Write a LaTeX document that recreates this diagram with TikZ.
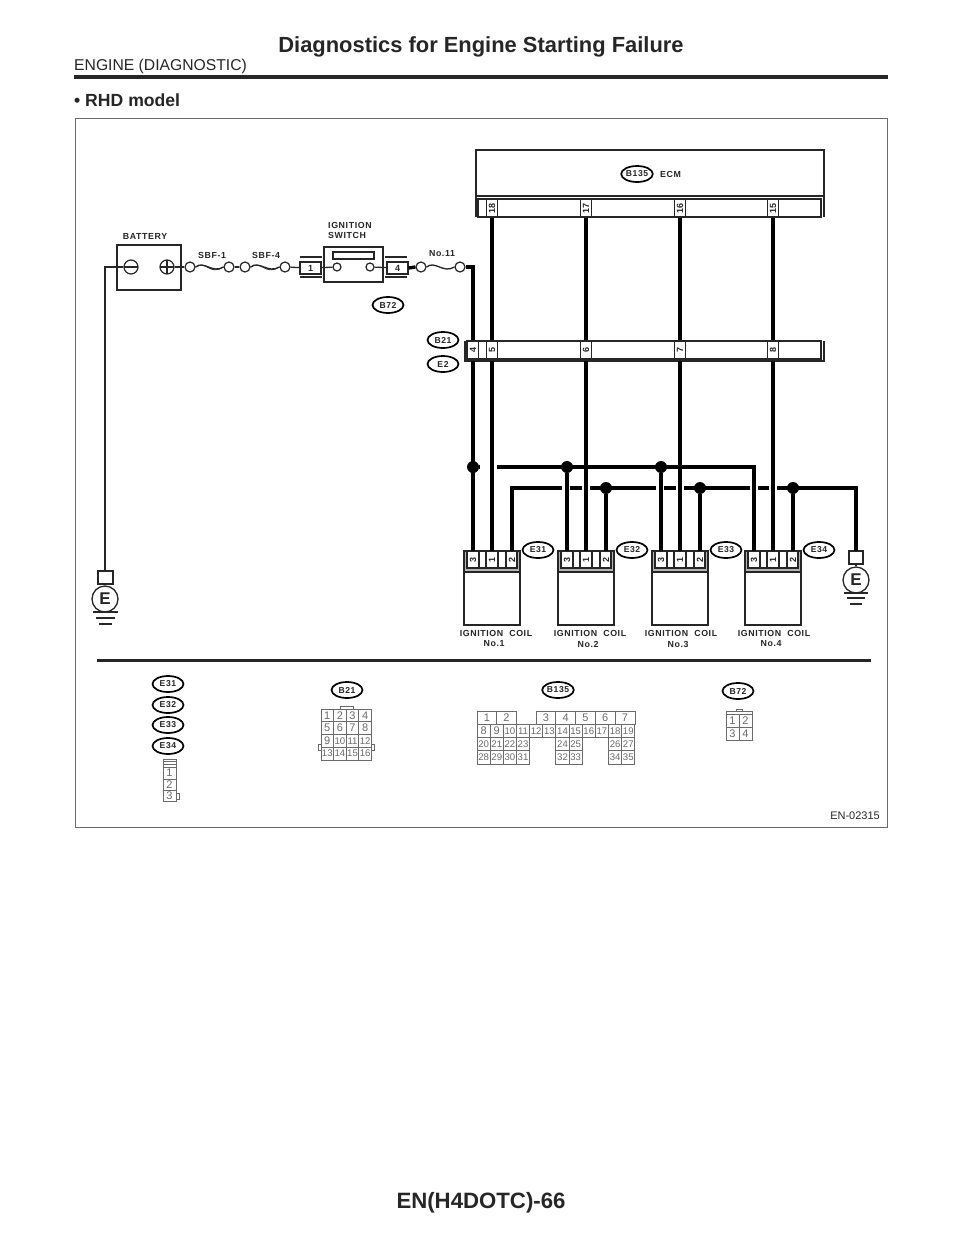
\documentclass[tikz,border=0pt]{standalone}
\usepackage{fontspec}
\setmainfont{Liberation Sans}
\newfontfamily\spacedfont[LetterSpace=7]{Liberation Sans}
\usetikzlibrary{calc,positioning,shapes.geometric}
\definecolor{inkgray}{gray}{.15}
\definecolor{pingray}{gray}{.42}

\begin{document}
\begin{tikzpicture}[x=1pt,y=-1pt,every node/.append style={inner sep=0,text=inkgray},
    wire/.style={line width=1.3,draw=inkgray},
    hwire/.style={line width=3.4,draw=black},
    part/.style={line width=1.3,draw=inkgray},
    term/.style={circle,draw=inkgray,line width=1.2,fill=white,minimum size=10},
    dot/.style={circle,fill=black,minimum size=12},
    tag/.style={ellipse,draw=black,line width=1.7,minimum width=31,minimum height=16,
                font=\spacedfont\bfseries\fontsize{8.6}{9}\selectfont},
    lbl/.style={font=\spacedfont\bfseries\fontsize{8.8}{10}\selectfont},
    pin/.style={font=\bfseries\fontsize{9}{9}\selectfont,rotate=90},
    num/.style={font=\fontsize{11}{11}\selectfont,text=pingray},
    smallnum/.style={font=\fontsize{9.6}{10}\selectfont,text=pingray},
    cell/.style={draw=pingray,line width=1}]
    \useasboundingbox (0,0) rectangle (960,1242);
    \fill[white] (0,0) rectangle (960,1242);

    % page head and foot
    \node[font=\bfseries\fontsize{21.9}{24}\selectfont] (title) at (481,47) {Diagnostics for Engine Starting Failure};
    \node[anchor=west,font=\fontsize{15.7}{18}\selectfont] (chapter) at (74,66) {ENGINE (DIAGNOSTIC)};
    \node[anchor=west,font=\bfseries\fontsize{17.6}{20}\selectfont] (model) at (74,100) {\textbullet\ RHD model};
    \node[font=\bfseries\fontsize{22.2}{24}\selectfont] (pageno) at (481,1203) {EN(H4DOTC)-66};
    \node[anchor=east,font=\fontsize{11}{12}\selectfont] (figno) at (880,816) {EN-02315};
    \draw[line width=4,draw=inkgray] (74,77) -- (888,77);
    \draw[line width=1,draw=pingray] (75,118) rectangle (887,827);
    \draw[line width=3,draw=inkgray] (97,660.5) -- (871,660.5);

    % battery
    \draw[part] (117,245) rectangle (181,290);
    \node[circle,draw=inkgray,line width=1.2,minimum size=14] (minus) at (131,267) {};
    \node[circle,draw=inkgray,line width=1.2,minimum size=14] (plus) at (167,267) {};
    \draw[part] (124,267) -- (138,267);
    \draw[part] (160,267) -- (174,267) (167,260) -- (167,274);
    \node[lbl] (battery) at (145,236) {BATTERY};

    % ground, left
    \draw[part] (98,571) rectangle (113,584);
    \coordinate (gndl) at (105,571);
    \node[circle,draw=inkgray,line width=1.3,minimum size=26,fill=white,
          font=\bfseries\fontsize{17}{18}\selectfont] (el) at (105,599) {E};
    \draw[part] (105,584) -- (el);
    \draw[part] (93,612) -- (118,612) (96,618) -- (115,618) (99,624) -- (112,624);
    \coordinate (cnr) at (105,267);
    \draw[wire] (minus.west) -- (cnr) -- (gndl);

    % fuses
    \node[term] (f1a) at (190,267) {};
    \node[term] (f1b) at (229,267) {};
    \node[term] (f4a) at (245,267) {};
    \node[term] (f4b) at (285,267) {};
    \node[term] (f11a) at (421,267) {};
    \node[term] (f11b) at (460,267) {};
    \foreach \a/\b in {f1a/f1b,f4a/f4b,f11a/f11b}{
        \draw[wire] (\a.east) .. controls ($(\a.east)!.3!(\b.west)+(0,-7)$) and ($(\a.east)!.6!(\b.west)+(0,7)$) .. (\b.west);
    }
    \foreach \a/\b in {f1a/f1b,f4a/f4b}{
        \draw[line width=.8,draw=inkgray] (\a.east) .. controls ($(\a.east)!.4!(\b.west)+(0,-7)$) and ($(\a.east)!.5!(\b.west)+(0,9)$) .. (\b.west);
    }
    \draw[wire] (plus) -- (f1a) (f1b) -- (f4a);
    \node[lbl] (sbfa) at (212,255) {SBF-1};
    \node[lbl] (sbfb) at (266,255) {SBF-4};
    \node[lbl] (fuse) at (442,254) {No.11};

    % ignition switch
    \draw[part] (324,247) rectangle (383,282);
    \draw[part] (333,252) rectangle (374,259);
    \node[term,minimum size=8] (swa) at (337,267) {};
    \node[term,minimum size=8] (swb) at (370,267) {};
    \node[part,draw,minimum width=21,minimum height=12,font=\bfseries\fontsize{9}{9}\selectfont] (swl) at (310.5,268) {1};
    \node[part,draw,minimum width=21,minimum height=12,font=\bfseries\fontsize{9}{9}\selectfont] (swr) at (397.5,268) {4};
    \draw[wire] (300,257) -- (322,257) (300,277) -- (322,277);
    \draw[wire] (385,257) -- (407,257) (385,277) -- (407,277);
    \draw[wire] (f4b) -- (swl) (swl) -- (swa) (swb) -- (swr);
    \draw[hwire] (swr.east) -- (f11a.west);
    \node[lbl,align=left,anchor=north west] (swtext) at (328,222.5) {IGNITION\\SWITCH};
    \node[tag] (b72) at (388,305) {B72};

    % ECM
    \draw[part,line width=1.5] (476,150) rectangle (824,196);
    \draw[part] (476,196) -- (476,217) (824,196) -- (824,217);
    \draw[part] (478,199) rectangle (821,217);
    \node[tag] (b135) at (637,174) {B135};
    \node[lbl,anchor=west] (ecm) at (660,174) {ECM};
    \foreach \x/\p in {492/18,586/17,680/16,773/15}{
        \node[part,draw,minimum width=11,minimum height=18,fill=white] (ec\p) at (\x,208) {};
        \node[pin] at (ec\p) {\p};
    }

    % harness connector
    \draw[part] (467,341) rectangle (821,359);
    \draw[part] (465,341) -- (465,361) -- (824,361) -- (824,341);
    \draw[part] (478,341) -- (478,359);
    \foreach \x/\p in {473/4,492/5,586/6,680/7,773/8}{
        \node[part,draw,minimum width=11,minimum height=18,fill=white] (hc\p) at (\x,350) {};
        \node[pin] at (hc\p) {\p};
    }
    \node[tag] (b21) at (443,340) {B21};
    \node[tag] (e2) at (443,364) {E2};

    % coils
    \foreach \n/\dx/\cx/\nx in {1/0/496/494,2/94/590/588,3/188/681/678,4/281/774/771}{
        \begin{scope}[xshift=\dx]
            \fill[pingray!50] (464,568) rectangle (520,572) (464,551) rectangle (467,568) (517,551) rectangle (520,568);
            \draw[part] (464,551) rectangle (520,625);
            \draw[part] (467,551) rectangle (517,568);
            \draw[part] (464,572) -- (520,572);
            \draw[part] (479,551) -- (479,568) (486,551) -- (486,568) (498,551) -- (498,568) (506,551) -- (506,568);
            \node[pin] (c\n p3) at (473,559.5) {3};
            \node[pin] (c\n p1) at (492,559.5) {1};
            \node[pin] (c\n p2) at (512,559.5) {2};
            \coordinate (c\n t3) at (473,551);
            \coordinate (c\n t1) at (492,551);
            \coordinate (c\n t2) at (512,551);
            \node[tag] (e3\n) at (538,550) {E3\n};
        \end{scope}
        \node[lbl] (cl\n) at (\cx,633) {IGNITION\hspace{6pt}COIL};
        \node[lbl] (cn\n) at (\nx,644) {No.\n};
    }

    % ground, right
    \draw[part] (849,551) rectangle (863,564);
    \coordinate (gndr) at (856,551);
    \node[circle,draw=inkgray,line width=1.3,minimum size=26,fill=white,
          font=\bfseries\fontsize{17}{18}\selectfont] (er) at (856,580) {E};
    \draw[part] (856,564) -- (er);
    \draw[part] (844,593) -- (868,593) (847,598) -- (865,598) (850,604) -- (862,604);

    % heavy wires
    \coordinate (tp) at (473,267);
    \draw[hwire] (f11b.east) -- (tp) -- (hc4.north);
    \foreach \e/\h in {18/5,17/6,16/7,15/8}{
        \draw[hwire] (ec\e.south) -- (hc\h.north);
    }
    \node[dot] (ja) at (473,467) {};
    \node[dot] (jb) at (567,467) {};
    \node[dot] (jc) at (661,467) {};
    \node[dot] (ka) at (606,488) {};
    \node[dot] (kb) at (700,488) {};
    \node[dot] (kc) at (793,488) {};
    \coordinate (h4) at (473,361);
    \coordinate (h5) at (492,361);
    \coordinate (h6) at (586,361);
    \coordinate (h7) at (680,361);
    \coordinate (h8) at (773,361);
    \draw[hwire] (h4) -- (c1t3);
    \draw[hwire] (h5) -- (c1t1);
    \draw[hwire] (h6) -- (c2t1);
    \draw[hwire] (h7) -- (c3t1);
    \draw[hwire] (h8) -- (c4t1);
    \draw[hwire] (jb) -- (c2t3);
    \draw[hwire] (jc) -- (c3t3);
    \draw[hwire] (ka) -- (c2t2);
    \draw[hwire] (kb) -- (c3t2);
    \draw[hwire] (kc) -- (c4t2);
    \coordinate (busa) at (497,467);
    \coordinate (busb) at (754,467);
    \coordinate (busc) at (512,488);
    \coordinate (busd) at (856,488);
    \draw[hwire] (ja) -- (480,467);
    \draw[hwire] (busa) -- (busb) -- (c4t3);
    \draw[hwire] (c1t2) -- (busc) -- (562,488);
    \draw[hwire] (570,488) -- (582,488);
    \draw[hwire] (590,488) -- (656,488);
    \draw[hwire] (664,488) -- (676,488);
    \draw[hwire] (684,488) -- (750,488);
    \draw[hwire] (758,488) -- (769,488);
    \draw[hwire] (777,488) -- (busd) -- (gndr);

    % connector views
    \node[tag] (ve31) at (168,684) {E31};
    \node[tag] (ve32) at (168,705) {E32};
    \node[tag] (ve33) at (168,725) {E33};
    \node[tag] (ve34) at (168,746) {E34};
    \draw[cell] (163,759) rectangle (176,801);
    \foreach \y in {761.5,764,767,779,790}{
        \draw[cell] (163,\y) -- (176,\y);
    }
    \draw[cell] (176,793) rectangle (179,799);
    \foreach \n/\y in {1/773,2/784.5,3/795.5}{
        \node[num] (ev\n) at (169.5,\y) {\n};
    }

    \node[tag] (vb21) at (347,690) {B21};
    \draw[cell] (340,706) rectangle (353,709);
    \draw[cell] (318,744) rectangle (321,750);
    \draw[cell] (371,744) rectangle (374,750);
    \foreach \c in {0,1,2,3}{
        \foreach \r in {0,1,2,3}{
            \draw[cell] (321+12.6*\c,709+12.75*\r) rectangle ++(12.6,12.75);
        }
    }
    \foreach \n/\c/\r in {1/0/0,2/1/0,3/2/0,4/3/0,5/0/1,6/1/1,7/2/1,8/3/1,9/0/2}{
        \node[num] (vp\n) at (327.3+12.6*\c,715.4+12.75*\r) {\n};
    }
    \foreach \n/\c/\r in {10/1/2,11/2/2,12/3/2,13/0/3,14/1/3,15/2/3,16/3/3}{
        \node[smallnum] (vp\n) at (327.3+12.6*\c,715.4+12.75*\r) {\n};
    }

    \node[tag] (vb135) at (558,690) {B135};
    \foreach \x/\w/\n in {477/19.7/1,496.7/19.7/2,536/19.8/3,555.8/19.8/4,575.6/19.6/5,595.2/19.8/6,615/20/7}{
        \draw[cell] (\x,711) rectangle ++(\w,13);
        \node[num] (eu\n) at (\x+\w/2,717.5) {\n};
    }
    \foreach \c/\n in {0/8,1/9}{
        \draw[cell] (477+13.15*\c,724) rectangle ++(13.15,13.5);
        \node[num] (eu\n) at (483.6+13.15*\c,730.8) {\n};
    }
    \foreach \c/\n in {2/10,3/11,4/12,5/13,6/14,7/15,8/16,9/17,10/18,11/19}{
        \draw[cell] (477+13.15*\c,724) rectangle ++(13.15,13.5);
        \node[smallnum] (eu\n) at (483.6+13.15*\c,730.8) {\n};
    }
    \foreach \c/\m/\n in {0/20/28,1/21/29,2/22/30,3/23/31,6/24/32,7/25/33,10/26/34,11/27/35}{
        \draw[cell] (477+13.15*\c,737.5) rectangle ++(13.15,13.25);
        \draw[cell] (477+13.15*\c,750.75) rectangle ++(13.15,13.25);
        \node[smallnum] (eu\m) at (483.6+13.15*\c,744.2) {\m};
        \node[smallnum] (eu\n) at (483.6+13.15*\c,757.4) {\n};
    }

    \node[tag] (vb72) at (738,691) {B72};
    \draw[cell] (736,709) rectangle (742,711);
    \draw[cell] (726,711) rectangle (752,714);
    \foreach \n/\c/\r in {1/0/0,2/1/0,3/0/1,4/1/1}{
        \draw[cell] (726+13*\c,714+13*\r) rectangle ++(13,13);
        \node[num] (vt\n) at (732.5+13*\c,720.5+13*\r) {\n};
    }
\end{tikzpicture}
\end{document}
